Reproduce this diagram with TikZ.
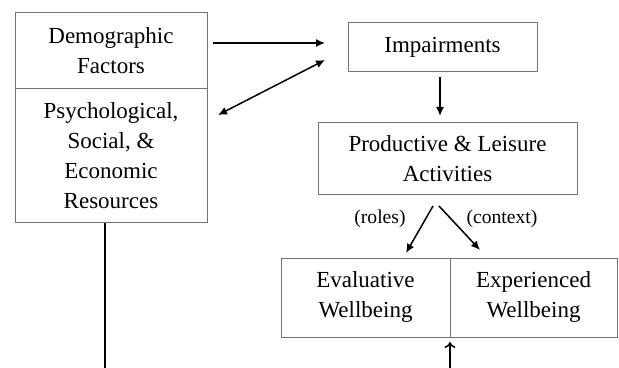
\documentclass[tikz,border=0pt]{standalone}
\usepackage{fontspec}
\setmainfont{Liberation Serif}
\usetikzlibrary{arrows.meta}
\tikzset{
  box/.style={draw=black!55, line width=0.5pt, align=center, inner sep=0pt,
    font=\fontsize{11.5}{15}\selectfont},
  arr/.style={line width=0.75pt, -{Latex[length=4.5pt,width=4pt]}},
  biarr/.style={line width=0.75pt, {Latex[length=4.5pt,width=4pt]}-{Latex[length=4.5pt,width=4pt]}},
  lbl/.style={font=\fontsize{9.8}{12}\selectfont, inner sep=0pt}
}
\begin{document}
\begin{tikzpicture}[x=0.5pt,y=-0.5pt]
        \useasboundingbox (0,0) rectangle (619,368);
        % boxes
        \node[box, minimum width=96pt, minimum height=38pt] (demo) at (111,51) {Demographic\\Factors};
        \node[box, minimum width=96pt, minimum height=67pt] (psych) at (111,156) {Psychological,\\Social, \&\\Economic\\Resources};
        \node[box, minimum width=94.5pt, minimum height=24.5pt] (imp) at (442.5,47.5) {Impairments};
        \node[box, minimum width=129.5pt, minimum height=36pt] (act) at (447.5,159) {Productive \& Leisure\\Activities};
        \node[box, minimum width=84.5pt, minimum height=39.5pt] (eval) at (365.5,297.5) {Evaluative\\Wellbeing};
        \node[box, minimum width=83.5pt, minimum height=39.5pt] (exp) at (533.5,297.5) {Experienced\\Wellbeing};
        % connector ends
        \coordinate (d1) at (213,43);
        \coordinate (i1) at (325,43);
        \coordinate (p1) at (218,115);
        \coordinate (i2) at (325,60);
        \coordinate (i3) at (440,77);
        \coordinate (a0) at (440,116);
        \coordinate (a1) at (433,206);
        \coordinate (a2) at (439,206);
        \coordinate (e1) at (406,253);
        \coordinate (e2) at (480,250);
        \coordinate (b1) at (450,368);
        \coordinate (w1) at (450,342);
        \coordinate (b0) at (105,368);
        % connectors
        \draw[arr] (d1) -- (i1);
        \draw[biarr] (p1) -- (i2);
        \draw[arr] (i3) -- (a0);
        \draw[arr] (a1) -- (e1);
        \draw[arr] (a2) -- (e2);
        \draw[line width=0.75pt, -{To[length=3pt,width=5.5pt]}] (b1) -- (w1);
        \draw[line width=0.75pt] (psych.south -| b0) -- (b0);
        % labels
        \node[lbl] (roles) at (380,219) {(roles)};
        \node[lbl] (ctx) at (502,219) {(context)};
\end{tikzpicture}
\end{document}
